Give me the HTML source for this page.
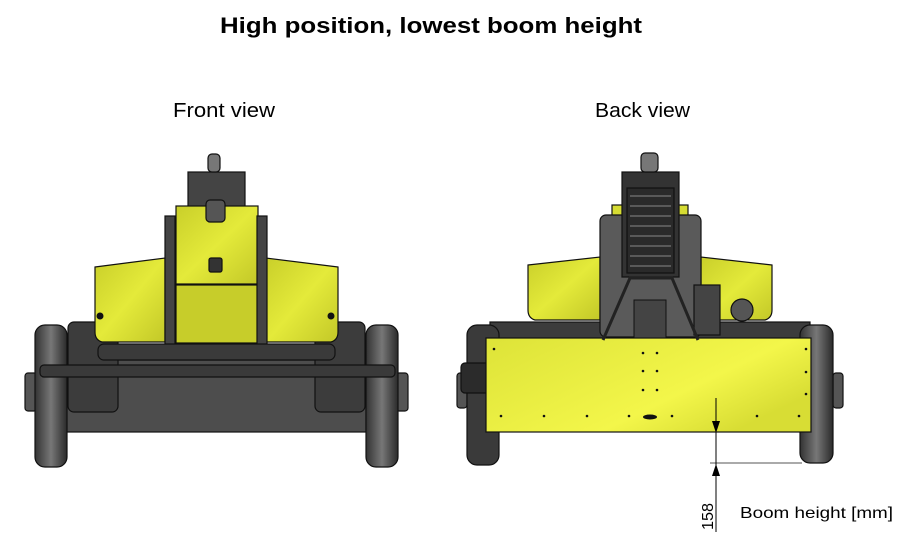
<!DOCTYPE html>
<html><head><meta charset="utf-8"><style>
html,body{margin:0;padding:0;background:#fff;}
svg{display:block;font-family:"Liberation Sans",sans-serif;}
</style></head><body>
<svg width="906" height="555" viewBox="0 0 906 555" xmlns="http://www.w3.org/2000/svg">
<defs>
<linearGradient id="yl" x1="0" y1="0" x2="1" y2="1"><stop offset="0" stop-color="#c9cf2a"/><stop offset="0.5" stop-color="#e4ea3a"/><stop offset="1" stop-color="#c3c828"/></linearGradient>
<linearGradient id="yb" x1="0" y1="0" x2="1" y2="0.6"><stop offset="0" stop-color="#dde338"/><stop offset="0.7" stop-color="#f3f64a"/><stop offset="1" stop-color="#d8dd34"/></linearGradient>
<linearGradient id="wh" x1="0" y1="0" x2="1" y2="0"><stop offset="0" stop-color="#333"/><stop offset="0.5" stop-color="#777"/><stop offset="1" stop-color="#2a2a2a"/></linearGradient>
</defs>
<text x="431" y="33" font-size="22" font-weight="bold" text-anchor="middle" textLength="422" lengthAdjust="spacingAndGlyphs">High position, lowest boom height</text>
<text x="173" y="117" font-size="20" textLength="102" lengthAdjust="spacingAndGlyphs">Front view</text>
<text x="595" y="117" font-size="20" textLength="95" lengthAdjust="spacingAndGlyphs">Back view</text>

<!-- FRONT VIEW -->
<g stroke="#111" stroke-width="1.2">
<rect x="25" y="373" width="12" height="38" rx="3" fill="#555"/>
<rect x="396" y="373" width="12" height="38" rx="3" fill="#555"/>
<rect x="66" y="360" width="300" height="72" fill="#4d4d4d"/>
<rect x="68" y="322" width="50" height="90" rx="6" fill="#3c3c3c"/>
<rect x="315" y="322" width="50" height="90" rx="6" fill="#3c3c3c"/>
<rect x="35" y="325" width="32" height="142" rx="10" fill="url(#wh)"/>
<rect x="366" y="325" width="32" height="142" rx="10" fill="url(#wh)"/>
<rect x="188" y="172" width="57" height="35" fill="#444"/>
<rect x="208" y="154" width="12" height="18" rx="4" fill="#777"/>
<path d="M95,267 L165,258 L165,342 L102,342 Q95,340 95,332 Z" fill="url(#yl)"/>
<path d="M338,267 L266,258 L266,342 L331,342 Q338,340 338,332 Z" fill="url(#yl)"/>
<rect x="176" y="206" width="82" height="78" fill="url(#yl)"/>
<rect x="176" y="285" width="82" height="58" fill="#c7cd2a"/>
<rect x="206" y="200" width="19" height="22" rx="4" fill="#555"/>
<rect x="209" y="258" width="13" height="14" rx="2" fill="#333"/>
<rect x="165" y="216" width="10" height="132" fill="#444"/>
<rect x="257" y="216" width="10" height="132" fill="#444"/>
<rect x="98" y="344" width="237" height="16" rx="6" fill="#3a3a3a"/>
<rect x="40" y="365" width="355" height="12" rx="4" fill="#3a3a3a"/>
</g>
<g fill="#111"><circle cx="100" cy="316" r="3.5"/><circle cx="331" cy="316" r="3.5"/></g>

<!-- BACK VIEW -->
<g stroke="#111" stroke-width="1.2">
<rect x="457" y="373" width="10" height="35" rx="3" fill="#555"/>
<rect x="833" y="373" width="10" height="35" rx="3" fill="#555"/>
<rect x="490" y="322" width="320" height="30" fill="#3c3c3c"/>
<rect x="467" y="325" width="32" height="140" rx="10" fill="#3a3a3a"/>
<rect x="800" y="325" width="33" height="138" rx="10" fill="url(#wh)"/>
<rect x="461" y="363" width="36" height="30" rx="4" fill="#2b2b2b"/>
<rect x="612" y="205" width="76" height="12" fill="#d6dc33"/>
<path d="M528,265 L600,257 L600,320 L535,320 Q528,318 528,310 Z" fill="url(#yl)"/>
<path d="M772,265 L701,257 L701,320 L765,320 Q772,318 772,310 Z" fill="url(#yl)"/>
<rect x="600" y="215" width="101" height="122" rx="6" fill="#5a5a5a"/>
<rect x="622" y="172" width="57" height="105" fill="#333"/>
<rect x="627" y="188" width="47" height="85" fill="#2a2a2a"/>
<rect x="641" y="153" width="17" height="19" rx="4" fill="#777"/>
<rect x="694" y="285" width="26" height="50" fill="#444"/>
<circle cx="742" cy="310" r="11" fill="#555"/>
<rect x="486" y="338" width="325" height="94" fill="url(#yb)"/>
</g>
<g stroke="#888" stroke-width="1">
<line x1="630" y1="196" x2="671" y2="196"/><line x1="630" y1="206" x2="671" y2="206"/><line x1="630" y1="216" x2="671" y2="216"/><line x1="630" y1="226" x2="671" y2="226"/><line x1="630" y1="236" x2="671" y2="236"/><line x1="630" y1="246" x2="671" y2="246"/><line x1="630" y1="256" x2="671" y2="256"/><line x1="630" y1="266" x2="671" y2="266"/>
</g>
<path d="M603,340 L630,278 L672,278 L698,340" fill="none" stroke="#222" stroke-width="3"/>
<rect x="634" y="300" width="32" height="38" fill="#444" stroke="#111"/>
<g fill="#111">
<circle cx="494" cy="349" r="1.3"/><circle cx="806" cy="349" r="1.3"/><circle cx="806" cy="372" r="1.3"/><circle cx="806" cy="394" r="1.3"/>
<circle cx="643" cy="353" r="1.3"/><circle cx="657" cy="353" r="1.3"/><circle cx="643" cy="371" r="1.3"/><circle cx="657" cy="371" r="1.3"/><circle cx="643" cy="390" r="1.3"/><circle cx="657" cy="390" r="1.3"/>
<circle cx="501" cy="416" r="1.3"/><circle cx="544" cy="416" r="1.3"/><circle cx="587" cy="416" r="1.3"/><circle cx="629" cy="416" r="1.3"/><circle cx="672" cy="416" r="1.3"/><circle cx="757" cy="416" r="1.3"/><circle cx="799" cy="416" r="1.3"/>
<ellipse cx="650" cy="417" rx="7" ry="2.5"/>
</g>
<!-- dimension -->
<line x1="710" y1="463" x2="802" y2="463" stroke="#555" stroke-width="1"/>
<line x1="716" y1="398" x2="716" y2="532" stroke="#000" stroke-width="1"/>
<path d="M712,421 L716,433 L720,421 Z" fill="#000"/>
<path d="M712,476 L716,464 L720,476 Z" fill="#000"/>
<text transform="translate(713,530) rotate(-90)" font-size="16" textLength="27" lengthAdjust="spacingAndGlyphs">158</text>
<text x="740" y="518" font-size="16" textLength="153" lengthAdjust="spacingAndGlyphs">Boom height [mm]</text>
</svg>
</body></html>
